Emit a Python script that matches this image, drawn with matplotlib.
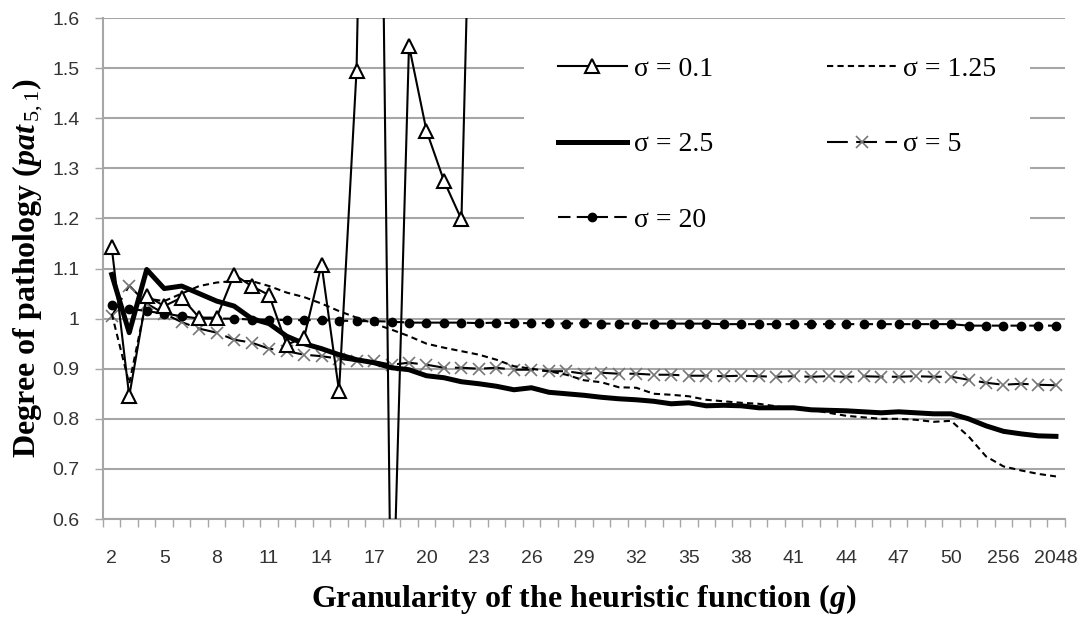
import matplotlib
matplotlib.use('Agg')
import matplotlib.pyplot as plt
import numpy as np

plt.rcParams['font.family'] = 'Liberation Serif'
plt.rcParams['mathtext.fontset'] = 'custom'
plt.rcParams['mathtext.rm'] = 'Liberation Serif'
plt.rcParams['mathtext.it'] = 'Liberation Serif:italic:bold'

# categories on the x axis (granularity g)
granularity = list(range(2, 51)) + [64, 128, 256, 512, 1024, 2048]

sigma_01 = [1.142, 0.845, 1.046, 1.025, 1.042, 1.002, 1.002, 1.088, 1.065, 1.047,
            0.948, 0.962, 1.108, 0.855, 1.495, 3.25, 0.30, 1.545, 1.375, 1.275,
            1.198, 2.6]

sigma_125 = [1.01, 0.87, 1.04, 1.035, 1.05, 1.065, 1.072, 1.075, 1.075, 1.065,
             1.052, 1.043, 1.03, 1.015, 1.002, 0.99, 0.978, 0.965, 0.95, 0.942,
             0.935, 0.928, 0.918, 0.905, 0.90, 0.895, 0.888, 0.877, 0.873, 0.863,
             0.862, 0.85, 0.848, 0.845, 0.838, 0.835, 0.832, 0.83, 0.825, 0.82,
             0.818, 0.812, 0.806, 0.803, 0.80, 0.80, 0.798, 0.794, 0.796,
             0.765, 0.725, 0.705, 0.697, 0.69, 0.685]

sigma_25 = [1.088, 0.972, 1.098, 1.06, 1.065, 1.05, 1.035, 1.025, 1.0, 0.99,
            0.965, 0.95, 0.94, 0.928, 0.918, 0.912, 0.902, 0.898, 0.886, 0.882,
            0.874, 0.87, 0.865, 0.858, 0.862, 0.853, 0.85, 0.847, 0.843, 0.84,
            0.838, 0.835, 0.83, 0.832, 0.826, 0.827, 0.826, 0.822, 0.822, 0.822,
            0.818, 0.817, 0.816, 0.814, 0.812, 0.814, 0.812, 0.81, 0.81,
            0.80, 0.786, 0.775, 0.77, 0.766, 0.765]

sigma_5 = [1.005, 1.066, 1.03, 1.01, 0.993, 0.98, 0.972, 0.958, 0.952, 0.94,
           0.935, 0.928, 0.925, 0.92, 0.915, 0.915, 0.908, 0.912, 0.908, 0.902,
           0.902, 0.90, 0.902, 0.898, 0.898, 0.895, 0.895, 0.89, 0.892, 0.89,
           0.89, 0.888, 0.888, 0.886, 0.886, 0.885, 0.886, 0.885, 0.884, 0.885,
           0.884, 0.885, 0.884, 0.885, 0.884, 0.884, 0.885, 0.884, 0.884,
           0.878, 0.872, 0.868, 0.87, 0.868, 0.867]

sigma_20 = [1.027, 1.02, 1.015, 1.01, 1.005, 1.0, 1.0, 1.0, 0.998, 0.998,
            0.997, 0.997, 0.997, 0.996, 0.995, 0.995, 0.994, 0.992, 0.992, 0.992,
            0.992, 0.991, 0.992, 0.991, 0.991, 0.991, 0.99, 0.991, 0.99, 0.99,
            0.99, 0.99, 0.99, 0.99, 0.99, 0.989, 0.989, 0.989, 0.989, 0.989,
            0.989, 0.989, 0.989, 0.989, 0.989, 0.989, 0.989, 0.989, 0.989,
            0.986, 0.986, 0.986, 0.986, 0.986, 0.986]

x = np.arange(len(granularity))

fig = plt.figure(figsize=(10.83, 6.17), dpi=100)
ax = fig.add_axes([0.0951, 0.1588, 0.888, 0.812])

l01, = ax.plot(x[:len(sigma_01)], sigma_01, color='black', lw=1.5, marker='^', ms=10,
               mfc='white', mec='black', mew=1.5, label='σ = 0.1', zorder=6)
l125, = ax.plot(x, sigma_125, color='black', lw=1.5, dashes=(3, 2), label='σ = 1.25', zorder=4)
l25, = ax.plot(x, sigma_25, color='black', lw=3.6, label='σ = 2.5', zorder=5)
l5, = ax.plot(x, sigma_5, color='black', lw=1.5, dashes=(10, 4), marker='x', ms=9,
              mec='#777777', mew=1.2, label='σ = 5', zorder=3)
l20, = ax.plot(x, sigma_20, color='black', lw=1.5, dashes=(6, 3), marker='o', ms=6,
               mfc='black', mec='black', label='σ = 20', zorder=3)

ax.set_ylim(0.6, 1.6)
ax.set_xlim(-0.5, len(granularity) - 0.5)
ax.set_yticks(np.arange(0.6, 1.61, 0.1))
ax.set_yticklabels(['%g' % round(v, 1) for v in np.arange(0.6, 1.61, 0.1)])
ax.yaxis.grid(True, color='#a6a6a6', lw=1.5)
ax.set_axisbelow(True)

ax.set_xticks(x[::3])
ax.set_xticklabels([str(g) for g in granularity[::3]])
ax.set_xticks(np.arange(-0.5, len(granularity), 1), minor=True)
ax.tick_params(axis='x', which='major', length=0, pad=22)
ax.tick_params(axis='x', which='minor', length=6, color='#a6a6a6', width=1)
ax.tick_params(axis='y', length=6, color='#a6a6a6', width=1, pad=11)
for lab in ax.get_xticklabels() + ax.get_yticklabels():
    lab.set_fontfamily('Liberation Sans')
    lab.set_fontsize(14)
    lab.set_color('#333333')

for s in ['top', 'right']:
    ax.spines[s].set_visible(False)
ax.spines['left'].set_color('#a6a6a6')
ax.spines['bottom'].set_color('#a6a6a6')
ax.spines['left'].set_linewidth(1.5)
ax.spines['bottom'].set_linewidth(1.5)

ax.set_ylabel(r'Degree of pathology ($\mathit{pat}_{\,\mathrm{5,1}}$)', fontsize=23, fontweight='bold', labelpad=5)
ax.set_xlabel(r'Granularity of the heuristic function ($\mathit{g}$)', fontsize=23, fontweight='bold', labelpad=11)

leg = ax.legend(handles=[l01, l25, l20, l125, l5], ncol=2, loc='upper left',
                bbox_to_anchor=(0.438, 0.99), fontsize=20, frameon=True,
                handlelength=2.5, handletextpad=0.25, columnspacing=4.1,
                labelspacing=1.8, borderpad=1.2, borderaxespad=0)
leg.get_frame().set_facecolor('white')
leg.get_frame().set_edgecolor('none')
leg.get_frame().set_alpha(1)
leg.set_zorder(10)

plt.savefig('out.png', dpi=100)
